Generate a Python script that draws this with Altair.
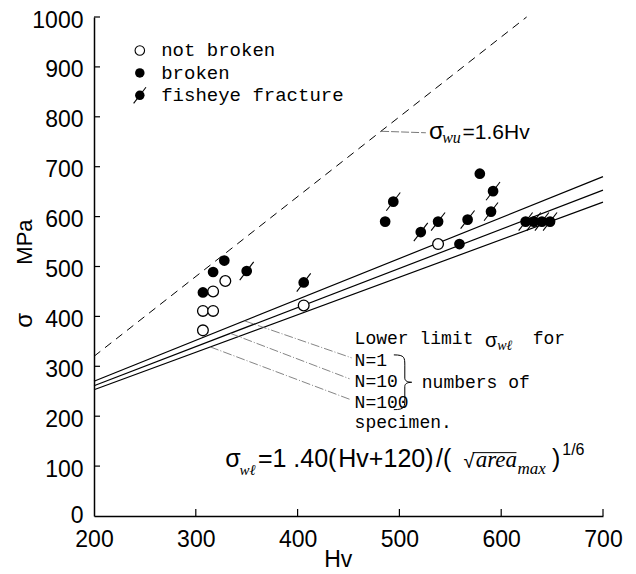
import altair as alt
import pandas as pd

# ---------------- data ----------------
nb_hv = [307, 307, 317, 317, 329, 406, 538]          # not broken
nb_s = [372, 411, 411, 450, 471, 422, 545]
br_hv = [307, 317, 328, 486, 559, 579]               # broken
br_s = [448, 489, 512, 590, 545, 686]
fe_hv = [350, 406, 494, 521, 538, 567, 590, 592, 624, 632, 640, 648]   # fisheye fracture
fe_s = [491, 468, 630, 569, 590, 594, 610, 651, 590, 590, 590, 590]

# lower-limit lines (end points at Hv = 200 and 700)
line_names = ["N=1", "N=10", "N=100"]
line_hv = [200, 700]
line_s = {"N=1": [270, 680], "N=10": [261, 653], "N=100": [253, 629]}
# sigma_wu = 1.6 Hv (dashed), end points
wu_hv = [200, 625]
wu_s = [320, 1000]

x_ticks = [200, 300, 400, 500, 600, 700]
y_ticks = [0, 100, 200, 300, 400, 500, 600, 700, 800, 900, 1000]

SANS = "Liberation Sans"
SERIF = "Liberation Serif"
MONO = "Liberation Mono"

XS = alt.Scale(domain=[200, 700], nice=False, zero=False)
YS = alt.Scale(domain=[0, 1000], nice=False, zero=False)
XA = alt.Axis(values=x_ticks, title=None, grid=False, ticks=False, domainColor="black",
              domainWidth=1.5, labelFont=SANS, labelFontSize=23, labelColor="black",
              labelPadding=12, labelFlush=False, labelOverlap=False, format="d")
YA = alt.Axis(values=y_ticks, title=None, grid=False, ticks=False, domainColor="black",
              domainWidth=1.5, labelFont=SANS, labelFontSize=23, labelColor="black",
              labelPadding=11, labelFlush=False, labelOverlap=False, format="d",
              labelOffset={"condition": {"test": "datum.value === 0", "value": -1}, "value": 3})


def enc(chart, **kw):
    return chart.encode(x=alt.X("x:Q", scale=XS, axis=XA), y=alt.Y("y:Q", scale=YS, axis=YA), **kw)


# ---------------- lines ----------------
rows = []
for n in line_names:
    for hv, s in zip(line_hv, line_s[n]):
        rows.append({"n": n, "x": hv, "y": s})
lines_df = pd.DataFrame(rows)
lines = enc(alt.Chart(lines_df).mark_line(color="black", strokeWidth=1.2), detail="n:N")

wu_df = pd.DataFrame({"x": wu_hv, "y": wu_s})
wu_line = enc(alt.Chart(wu_df).mark_line(color="black", strokeWidth=1, strokeDash=[8, 6]))

# inward ticks
xt = enc(alt.Chart(pd.DataFrame({"x": x_ticks[1:], "y": [0] * 5})).mark_tick(
    orient="vertical", size=7, thickness=1.2, color="black", yOffset=-3.5, opacity=1))
yt = enc(alt.Chart(pd.DataFrame({"x": [200] * 10, "y": y_ticks[1:]})).mark_tick(
    orient="horizontal", size=6, thickness=1.2, color="black", xOffset=3, opacity=1))

# ---------------- points ----------------
PT = 115
nb = enc(alt.Chart(pd.DataFrame({"x": nb_hv, "y": nb_s})).mark_point(
    shape="circle", filled=True, fill="white", stroke="black", strokeWidth=1.3, size=PT, opacity=1))
br = enc(alt.Chart(pd.DataFrame({"x": br_hv, "y": br_s})).mark_point(
    shape="circle", filled=True, color="black", size=PT, opacity=1))
fe_df = pd.DataFrame({"x": fe_hv, "y": fe_s})
fe = enc(alt.Chart(fe_df).mark_point(shape="circle", filled=True, color="black", size=PT, opacity=1))
SLASH = "M-1.3,1.7L1.3,-1.7"
fe_sl = enc(alt.Chart(fe_df).mark_point(shape=SLASH, filled=False, stroke="black",
                                         strokeWidth=1.1, size=PT, opacity=1))

# ---------------- legend ----------------
leg_x = 245
leg_y = [933, 888, 843]
leg_nb = enc(alt.Chart(pd.DataFrame({"x": [leg_x], "y": [leg_y[0]]})).mark_point(
    shape="circle", filled=True, fill="white", stroke="black", strokeWidth=1.1, size=90, opacity=1))
leg_br = enc(alt.Chart(pd.DataFrame({"x": [leg_x, leg_x], "y": leg_y[1:]})).mark_point(
    shape="circle", filled=True, color="black", size=90, opacity=1))
leg_sl = enc(alt.Chart(pd.DataFrame({"x": [leg_x], "y": [leg_y[2]]})).mark_point(
    shape=SLASH, filled=False, stroke="black", strokeWidth=1.1, size=90, opacity=1))
leg_txt = enc(alt.Chart(pd.DataFrame({"x": [266] * 3, "y": leg_y,
                                      "t": ["not broken", "broken", "fisheye fracture"]})).mark_text(
    align="left", baseline="middle", font=MONO, fontSize=19, color="black"), text="t:N")


def txt(xs, ys, ts, size, font=SANS, style="normal", align="left", baseline="middle", angle=0):
    df = pd.DataFrame({"x": xs, "y": ys, "t": ts})
    return enc(alt.Chart(df).mark_text(align=align, baseline=baseline, font=font, fontSize=size,
                                       fontStyle=style, color="black", angle=angle), text="t:N")


# axis titles
ytitle = txt([132], [549], ["MPa"], 22, align="center", angle=270)
ysig = txt([132], [392], ["σ"], 24, align="center", angle=270)
xtitle = txt([440], [-88], ["Hv"], 23, align="center")

# sigma_wu annotation
wu_lead = enc(alt.Chart(pd.DataFrame({"x": [482], "y": [771], "x2": [526], "y2": [768]})).mark_rule(
    color="#555", strokeWidth=0.8, strokeDash=[8, 2]), x2="x2:Q", y2="y2:Q")
wu_sig = txt([529], [770], ["σ"], 24)
wu_sub = txt([542], [758], ["wu"], 16, font=SERIF, style="italic")
wu_eq = txt([562], [768], ["=1.6Hv"], 21)

# lower limit annotation
ll1 = txt([456], [354], ["Lower limit"], 18, font=MONO)
ll_sig = txt([584], [350], ["σ"], 20)
ll_sub = txt([596], [340], ["wℓ"], 14, font=SERIF, style="italic")
ll_for = txt([631], [354], ["for"], 18, font=MONO)
lln = txt([456, 456, 456, 456], [310, 268, 226, 187],
          ["N=1", "N=10", "N=100", "specimen."], 18, font=MONO)
llnum = txt([522], [267], ["numbers of"], 18, font=MONO)
BRACE = ("M-0.5,-1C-0.1,-1 -0.1,-0.9 -0.1,-0.6L-0.1,-0.15C-0.1,-0.05 0,0 0.15,0"
         "C0,0 -0.1,0.05 -0.1,0.15L-0.1,0.6C-0.1,0.9 -0.1,1 -0.5,1")
brace = enc(alt.Chart(pd.DataFrame({"x": [508], "y": [268]})).mark_point(
    shape=BRACE, filled=False, stroke="black", strokeWidth=1, size=3000, opacity=1))
lead_df = pd.DataFrame({"x": [348, 334, 314], "y": [391, 366, 339],
                        "x2": [453, 451, 451], "y2": [317, 275, 234]})
leads = enc(alt.Chart(lead_df).mark_rule(color="#666", strokeWidth=0.8, strokeDash=[9, 2, 1, 2]),
            x2="x2:Q", y2="y2:Q")

# formula
f_sig = txt([329], [98], ["σ"], 25, baseline="alphabetic")
f_sub = txt([343], [82], ["wℓ"], 15, font=SERIF, style="italic", baseline="alphabetic")
f_a = txt([361], [98], ["=1 .40("], 25, baseline="alphabetic")
f_b = txt([440], [98], ["Hv+120)"], 25, baseline="alphabetic")
f_c = txt([536], [98], ["/("], 25, baseline="alphabetic")
f_sq = txt([563], [97], ["√"], 20, baseline="alphabetic")
f_area = txt([575], [98], ["area"], 23, font=SERIF, style="italic", baseline="alphabetic")
f_bar = enc(alt.Chart(pd.DataFrame({"x": [572], "y": [127], "x2": [615]})).mark_rule(
    color="black", strokeWidth=1), x2="x2:Q")
f_max = txt([616], [84], ["max"], 17, font=SERIF, style="italic", baseline="alphabetic")
f_par = txt([650], [98], [")"], 25, baseline="alphabetic")
f_exp = txt([660], [122], ["1/6"], 16, baseline="alphabetic")

chart = alt.layer(
    lines, wu_line, xt, yt, leads, wu_lead, nb, br, fe, fe_sl,
    leg_nb, leg_br, leg_sl, leg_txt, ytitle, ysig, xtitle,
    wu_sig, wu_sub, wu_eq, ll1, ll_sig, ll_sub, ll_for, lln, llnum, brace,
    f_sig, f_sub, f_a, f_b, f_c, f_sq, f_area, f_bar, f_max, f_par, f_exp,
).properties(
    width=509, height=499,
    autosize=alt.AutoSizeParams(type="none"),
    padding={"left": 86, "top": 9, "right": 25, "bottom": 58},
    background="white",
).configure_view(stroke=None)

chart.save("out.html", embed_options={"renderer": "svg", "actions": False})
